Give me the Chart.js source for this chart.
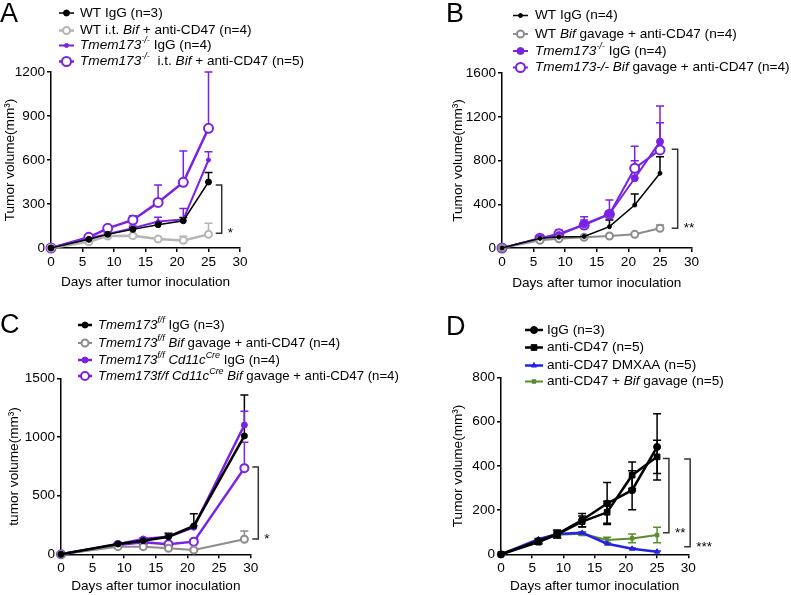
<!DOCTYPE html>
<html>
<head>
<meta charset="utf-8">
<script src="https://cdn.jsdelivr.net/npm/chart.js@4.4.1/dist/chart.umd.min.js"></script>
<style>
  html, body { margin: 0; padding: 0; background: #fff; }
  #wrap { position: relative; width: 791px; height: 595px; overflow: hidden; }
  canvas { position: absolute; }
</style>
</head>
<body>
<div id="wrap">
  <canvas id="panelA" width="395" height="297" style="left:0;top:0"></canvas>
  <canvas id="panelB" width="396" height="297" style="left:395px;top:0"></canvas>
  <canvas id="panelD" width="396" height="298" style="left:395px;top:297px"></canvas>
  <canvas id="panelC" width="420" height="298" style="left:0;top:297px"></canvas>
</div>
<script>
const FONT = "'Liberation Sans', Arial, sans-serif";
const FS = 13.6;
const PURPLE = '#7a22e4';
const GREY_LIGHT = '#b5b5b5';
const GREY = '#8c8c8c';
const BLUE = '#2222e8';
const GREEN = '#5a8c2c';

const xTicks = [0, 5, 10, 15, 20, 25, 30];

// ---- panel A
const daysA = [0, 6, 9, 13, 17, 21, 25];
const yTicksA = [0, 300, 600, 900, 1200];
const aWtIgg = [0, 59, 93, 127, 159, 186, 450];
const aWtIggErr = [0, 10, 10, 12, 15, 22, 64];
const aWtBif = [0, 43, 82, 84, 61, 52, 93];
const aWtBifErr = [0, 8, 10, 10, 8, 28, 75];
const aKoIgg = [0, 65, 95, 135, 180, 195, 600];
const aKoIggErr = [0, 8, 10, 15, 30, 75, 57];
const aKoBif = [0, 73, 134, 191, 311, 448, 816];
const aKoBifErr = [0, 8, 12, 29, 119, 213, 384];
const legendA = [
  'WT IgG (n=3)',
  'WT i.t. <i>Bif</i> + anti-CD47 (n=4)',
  '<i>Tmem173<sup>-/-</sup></i> IgG (n=4)',
  '<i>Tmem173<sup>-/-</sup></i>  i.t. <i>Bif</i> + anti-CD47 (n=5)'
];

// ---- panel B
const daysB = [0, 6, 9, 13, 17, 21, 25];
const yTicksB = [0, 400, 800, 1200, 1600];
const bWtIgg = [0, 88, 100, 105, 195, 393, 683];
const bWtIggErr = [0, 0, 0, 5, 61, 101, 152];
const bWtBif = [0, 70, 85, 98, 110, 125, 180];
const bWtBifErr = [0, 5, 5, 5, 5, 8, 30];
const bKoIgg = [0, 88, 119, 217, 311, 638, 973];
const bKoIggErr = [0, 10, 20, 40, 30, 160, 173];
const bKoBif = [0, 90, 130, 210, 308, 729, 897];
const bKoBifErr = [0, 10, 35, 76, 131, 201, 402];
const legendB = [
  'WT IgG (n=4)',
  'WT <i>Bif</i> gavage + anti-CD47 (n=4)',
  '<i>Tmem173<sup>-/-</sup></i> IgG (n=4)',
  '<i>Tmem173-/- Bif</i> gavage + anti-CD47 (n=4)'
];

// ---- panel C
const daysC = [0, 9, 13, 17, 21, 29];
const yTicksC = [0, 500, 1000, 1500];
const cIgg = [0, 88, 116, 150, 242, 1010];
const cIggErr = [0, 10, 10, 30, 103, 350];
const cBif = [0, 65, 65, 51, 37, 128];
const cBifErr = [0, 5, 5, 5, 5, 71];
const cCreIgg = [0, 85, 131, 150, 231, 1103];
const cCreIggErr = [0, 8, 10, 15, 15, 117];
const cCreBif = [0, 80, 103, 85, 108, 735];
const cCreBifErr = [0, 5, 8, 8, 10, 222];
const legendC = [
  '<i>Tmem173<sup>f/f</sup></i> IgG (n=3)',
  '<i>Tmem173<sup>f/f</sup> Bif</i> gavage + anti-CD47 (n=4)',
  '<i>Tmem173<sup>f/f</sup> Cd11c<sup>Cre</sup></i> IgG (n=4)',
  '<i>Tmem173f/f Cd11c<sup>Cre</sup> Bif</i> gavage + anti-CD47 (n=4)'
];

// ---- panel D
const daysD = [0, 6, 9, 13, 17, 21, 25];
const yTicksD = [0, 200, 400, 600, 800];
const dIgg = [0, 60, 92, 155, 230, 290, 486];
const dIggErr = [0, 10, 18, 30, 95, 88, 150];
const dCd47 = [0, 55, 90, 148, 190, 358, 441];
const dCd47Err = [0, 8, 15, 25, 50, 60, 75];
const dDmxaa = [0, 68, 92, 97, 48, 25, 12];
const dDmxaaErr = [0, 4, 4, 4, 4, 3, 3];
const dBif = [0, 60, 88, 93, 65, 72, 87];
const dBifErr = [0, 5, 8, 8, 12, 20, 35];
const legendD = [
  'IgG (n=3)',
  'anti-CD47 (n=5)',
  'anti-CD47 DMXAA (n=5)',
  'anti-CD47 + <i>Bif</i> gavage (n=5)'
];

Chart.defaults.font.family = FONT;
Chart.defaults.font.size = FS;
Chart.defaults.color = '#000';

function parseRich(str) {
  const out = [];
  let it = false, sup = false;
  str.split(/(<\/?i>|<\/?sup>)/).forEach(tok => {
    if (tok === '<i>') it = true;
    else if (tok === '</i>') it = false;
    else if (tok === '<sup>') sup = true;
    else if (tok === '</sup>') sup = false;
    else if (tok) out.push({ t: tok, it, sup });
  });
  return out;
}

function drawRich(ctx, str, x, y, size) {
  parseRich(str).forEach(s => {
    const fs = s.sup ? size * 0.68 : size;
    ctx.font = (s.it ? 'italic ' : '') + fs + 'px ' + FONT;
    ctx.fillText(s.t, x, s.sup ? y - size * 0.36 : y);
    x += ctx.measureText(s.t).width;
  });
}

function marker(ctx, ds, x, y) {
  ctx.save();
  ctx.strokeStyle = ds.pointBorderColor;
  ctx.fillStyle = ds.pointBackgroundColor;
  ctx.lineWidth = ds.pointBorderWidth;
  Chart.helpers.drawPoint(ctx, { pointStyle: ds.pointStyle, radius: ds.pointRadius, rotation: 0, borderWidth: ds.pointBorderWidth }, x, y);
  ctx.restore();
}

// error bars, legend, brackets and panel letter
const decor = {
  id: 'decor',
  beforeDatasetsDraw(chart) {
    const { ctx, scales: { x, y } } = chart;
    chart.data.datasets.forEach(ds => {
      ctx.save();
      ctx.strokeStyle = ds.borderColor;
      ctx.lineWidth = 1.5;
      ds.data.forEach((pt, j) => {
        const up = ds.errUp ? ds.errUp[j] : 0;
        const dn = ds.errDown ? ds.errDown[j] : 0;
        if (!up && !dn) return;
        const px = x.getPixelForValue(pt.x);
        const y0 = y.getPixelForValue(pt.y + up);
        const y1 = y.getPixelForValue(pt.y - dn);
        ctx.beginPath();
        ctx.moveTo(px, y0); ctx.lineTo(px, y1);
        if (up) { ctx.moveTo(px - 4, y0); ctx.lineTo(px + 4, y0); }
        if (dn) { ctx.moveTo(px - 4, y1); ctx.lineTo(px + 4, y1); }
        ctx.stroke();
      });
      ctx.restore();
    });
  },
  afterDraw(chart, args, opts) {
    const { ctx, scales: { x, y } } = chart;
    ctx.save();
    // panel letter
    ctx.fillStyle = '#000';
    ctx.textBaseline = 'alphabetic';
    ctx.font = '27px ' + FONT;
    ctx.fillText(opts.letter.text, opts.letter.x, opts.letter.y);
    // legend
    const lg = opts.legend;
    ctx.textBaseline = 'middle';
    chart.data.datasets.forEach((ds, i) => {
      const ry = lg.rows[i];
      ctx.strokeStyle = ds.borderColor;
      ctx.lineWidth = ds.borderWidth;
      ctx.beginPath(); ctx.moveTo(lg.x0, ry); ctx.lineTo(lg.x1, ry); ctx.stroke();
      marker(ctx, ds, (lg.x0 + lg.x1) / 2, ry);
      ctx.fillStyle = '#000';
      drawRich(ctx, ds.label, lg.tx, ry, lg.size || FS);
    });
    // significance brackets
    ctx.strokeStyle = '#333';
    ctx.fillStyle = '#000';
    ctx.lineWidth = 1.5;
    opts.brackets.forEach(b => {
      const bx = x.getPixelForValue(b.x);
      const t = y.getPixelForValue(b.y0), bt = y.getPixelForValue(b.y1);
      ctx.beginPath();
      ctx.moveTo(bx - 6, t); ctx.lineTo(bx, t); ctx.lineTo(bx, bt); ctx.lineTo(bx - 6, bt);
      ctx.stroke();
      ctx.font = FS + 'px ' + FONT;
      ctx.textBaseline = 'alphabetic';
      ctx.fillText(b.label, bx + 6, bt + 4);
    });
    ctx.restore();
  }
};

function series(label, days, vals, color, look, errUp, errDown) {
  return {
    label: label,
    data: days.map((d, i) => ({ x: d, y: vals[i] })),
    borderColor: color,
    backgroundColor: color,
    borderWidth: look.lw,
    pointStyle: look.style || 'circle',
    pointRadius: look.r,
    pointBorderWidth: look.open ? 2 : 1,
    pointBorderColor: color,
    pointBackgroundColor: look.open ? '#fff' : color,
    tension: 0,
    clip: false,
    errUp: errUp,
    errDown: errDown
  };
}

function panel(id, p) {
  const cv = document.getElementById(id);
  const W = cv.width, H = cv.height;
  return new Chart(cv, {
    type: 'line',
    data: { datasets: p.datasets },
    options: {
      responsive: false,
      animation: false,
      events: [],
      layout: { padding: { left: 0, top: p.top, right: W - p.right, bottom: 0 } },
      plugins: {
        legend: { display: false },
        tooltip: { enabled: false },
        decor: { letter: p.letter, legend: p.legend, brackets: p.brackets }
      },
      scales: {
        x: {
          type: 'linear', min: 0, max: 30,
          afterBuildTicks: s => { s.ticks = xTicks.map(v => ({ value: v })); },
          afterFit: s => { s.height = H - p.bottom; },
          grid: { display: true, drawOnChartArea: false, drawTicks: true, tickLength: 4, color: '#000', lineWidth: 1.5 },
          border: { display: true, color: '#000', width: 1.5 },
          ticks: { padding: 2, color: '#000', font: { size: FS }, maxRotation: 0, callback: v => String(v) },
          title: { display: true, text: 'Days after tumor inoculation', color: '#000', font: { size: FS },
                   padding: { top: 0, bottom: H - p.xTitleY - FS * 0.6 } }
        },
        y: {
          type: 'linear', min: 0, max: p.yTicks[p.yTicks.length - 1],
          afterBuildTicks: s => { s.ticks = p.yTicks.map(v => ({ value: v })); },
          afterFit: s => { s.width = p.left; },
          grid: { display: true, drawOnChartArea: false, drawTicks: true, tickLength: 4, color: '#000', lineWidth: 1.5 },
          border: { display: true, color: '#000', width: 1.5 },
          ticks: { padding: 2, color: '#000', font: { size: FS }, callback: v => String(v) },
          title: { display: true, text: p.yTitle, color: '#000', font: { size: FS },
                   padding: { top: p.yTitleX - FS * 0.6, bottom: 0 } }
        }
      }
    },
    plugins: [decor]
  });
}

panel('panelA', {
  left: 51, right: 240, top: 72, bottom: 248, yTitleX: 10, xTitleY: 282,
  yTicks: yTicksA, yTitle: 'Tumor volume(mm³)',
  letter: { text: 'A', x: 0, y: 22 },
  legend: { x0: 59, x1: 74, tx: 80, rows: [13, 30.5, 45.5, 61.5] },
  brackets: [{ x: 27.1, y0: 430, y1: 100, label: '*' }],
  datasets: [
    series(legendA[0], daysA, aWtIgg, '#000', { lw: 1.5, r: 3 }, aWtIggErr),
    series(legendA[1], daysA, aWtBif, GREY_LIGHT, { lw: 2.5, r: 3.5, open: true }, aWtBifErr),
    series(legendA[2], daysA, aKoIgg, PURPLE, { lw: 2, r: 2 }, aKoIggErr),
    series(legendA[3], daysA, aKoBif, PURPLE, { lw: 2.5, r: 4.5, open: true }, aKoBifErr)
  ]
});

panel('panelB', {
  left: 107, right: 296.6, top: 73, bottom: 248, yTitleX: 63, xTitleY: 283,
  yTicks: yTicksB, yTitle: 'Tumor volume(mm³)',
  letter: { text: 'B', x: 51, y: 22 },
  legend: { x0: 118, x1: 133, tx: 140, rows: [15.5, 34, 51, 67.5] },
  brackets: [{ x: 27.8, y0: 903, y1: 180, label: '**' }],
  datasets: [
    series(legendB[0], daysB, bWtIgg, '#000', { lw: 1.5, r: 2 }, bWtIggErr),
    series(legendB[1], daysB, bWtBif, GREY, { lw: 2, r: 3.5, open: true }, bWtBifErr),
    series(legendB[2], daysB, bKoIgg, PURPLE, { lw: 2, r: 3.5 }, bKoIggErr),
    series(legendB[3], daysB, bKoBif, PURPLE, { lw: 2, r: 4.5, open: true }, bKoBifErr)
  ]
});

panel('panelC', {
  left: 61, right: 250.7, top: 81.5, bottom: 257.3, yTitleX: 14, xTitleY: 289.7,
  yTicks: yTicksC, yTitle: 'tumor volume(mm³)',
  letter: { text: 'C', x: 0, y: 36 },
  legend: { x0: 78, x1: 92, tx: 98, rows: [28, 46, 63, 79], size: 13.2 },
  brackets: [{ x: 31.2, y0: 744, y1: 131, label: '*' }],
  datasets: [
    series(legendC[0], daysC, cIgg, '#000', { lw: 2.5, r: 3 }, cIggErr),
    series(legendC[1], daysC, cBif, GREY, { lw: 2, r: 3.5, open: true }, cBifErr),
    series(legendC[2], daysC, cCreIgg, PURPLE, { lw: 2.5, r: 3 }, cCreIggErr),
    series(legendC[3], daysC, cCreBif, PURPLE, { lw: 2.5, r: 4, open: true }, cCreBifErr)
  ]
});

panel('panelD', {
  left: 106, right: 293.3, top: 80.5, bottom: 257.3, yTitleX: 63, xTitleY: 289.7,
  yTicks: yTicksD, yTitle: 'Tumor volume(mm³)',
  letter: { text: 'D', x: 51, y: 38 },
  legend: { x0: 130, x1: 148, tx: 152, rows: [33, 50.5, 68.5, 84.5] },
  brackets: [
    { x: 26.9, y0: 434, y1: 98, label: '**' },
    { x: 30.3, y0: 431, y1: 34, label: '***' }
  ],
  datasets: [
    series(legendD[0], daysD, dIgg, '#000', { lw: 2.5, r: 3.5 }, dIggErr, dIggErr),
    series(legendD[1], daysD, dCd47, '#000', { lw: 2.5, r: 4, style: 'rect' }, dCd47Err, dCd47Err),
    series(legendD[2], daysD, dDmxaa, BLUE, { lw: 2.5, r: 3, style: 'triangle' }, dDmxaaErr),
    series(legendD[3], daysD, dBif, GREEN, { lw: 2, r: 2.5, style: 'rect' }, dBifErr, dBifErr)
  ]
});
</script>
</body>
</html>
